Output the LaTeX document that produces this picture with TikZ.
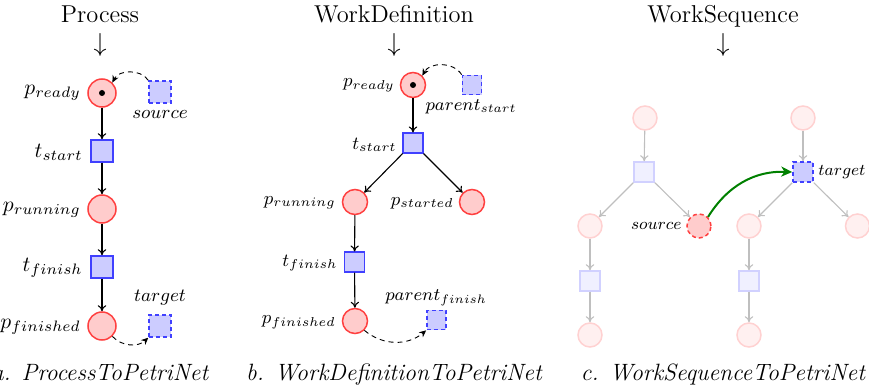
\RequirePackage{fix-cm}
\documentclass[tikz,border=0pt]{standalone}
\usetikzlibrary{arrows.meta}
\begin{document}
\begin{tikzpicture}[x=0.5pt,y=-0.5pt,
  place/.style={circle,draw=red!75,fill=red!20,line width=0.75pt,minimum size=#1,inner sep=0pt},
  place/.default=14pt,
  trans/.style={rectangle,draw=blue!75,fill=blue!20,line width=0.75pt,minimum size=#1,inner sep=0pt},
  trans/.default=11pt,
  dtrans/.style={trans=#1,dashed,dash pattern=on 2pt off 1.5pt},
  dtrans/.default=11pt,
  fplace/.style={circle,draw=red!18,fill=red!6,line width=0.75pt,minimum size=12pt,inner sep=0pt},
  ftrans/.style={rectangle,draw=blue!18,fill=blue!6,line width=0.75pt,minimum size=10pt,inner sep=0pt},
  token/.style={circle,fill=black,minimum size=3pt,inner sep=0pt},
  arr/.style={line width=0.55pt,-{Computer Modern Rightarrow[length=3pt,width=4.2pt]}},
  farr/.style={black!25,line width=0.55pt,-{Computer Modern Rightarrow[length=3pt,width=4.2pt]}},
  darr/.style={line width=0.45pt,dash pattern=on 2.5pt off 2pt,-{Stealth[length=3.5pt,width=3.2pt,inset=1.1pt]}},
  garr/.style={green!50!black,line width=1pt,-{Stealth[length=5.5pt,width=5pt,inset=1.6pt]}},
  ttl/.style={font=\fontsize{12.2}{15}\selectfont,anchor=base,inner sep=0pt},
  dwn/.style={font=\fontsize{13}{15}\selectfont,anchor=base,inner sep=0pt},
  captxt/.style={font=\fontsize{11.8}{14}\selectfont\itshape,anchor=base,inner sep=0pt},
  lA/.style={font=\fontsize{10.8}{12}\selectfont,inner sep=0pt},
  sA/.style={font=\fontsize{9.3}{11}\selectfont,inner sep=0pt},
  lB/.style={font=\fontsize{9.2}{11}\selectfont,inner sep=0pt},
  sB/.style={font=\fontsize{8.8}{10}\selectfont,inner sep=0pt},
  lC/.style={font=\fontsize{8.2}{10}\selectfont,inner sep=0pt}
]
\useasboundingbox (0,0) rectangle (869,390);

% ---------- Panel a ----------
\node[ttl] (ta) at (100,23) {Process};
\node[dwn] (da) at (100,52) {$\downarrow$};
\node[place] (ar) at (102,93) {};
\node[token] (art) at (ar) {};
\node[dtrans] (asrc) at (160,92) {};
\node[trans] (ats) at (102,151) {};
\node[place] (apr) at (102,209) {};
\node[trans] (atf) at (102,267) {};
\node[place] (apf) at (102,326) {};
\node[dtrans] (atg) at (160,326) {};
\node[lA,anchor=east] (arl) at (81,93) {$p_{ready}$};
\node[lA,anchor=east] (atsl) at (83,152) {$t_{start}$};
\node[lA,anchor=east] (aprl) at (81,210) {$p_{running}$};
\node[lA,anchor=east] (atfl) at (83,268) {$t_{finish}$};
\node[lA,anchor=east] (apfl) at (81,327) {$p_{finished}$};
\node[sA] (asrcl) at (160,114) {$source$};
\node[sA] (atgl) at (160,298) {$target$};
\draw[arr] (ar) -- (ats);
\draw[arr] (ats) -- (apr);
\draw[arr] (apr) -- (atf);
\draw[arr] (atf) -- (apf);
\draw[darr] (asrc.north west) to[bend right=60] (ar.north east);
\draw[darr] (apf.south east) to[bend right=45] (atg.south west);
\node[captxt] (ca) at (100,380) {a. ProcessToPetriNet};

% ---------- Panel b ----------
\node[ttl] (tb) at (394,23) {WorkDefinition};
\node[dwn] (db) at (394,52) {$\downarrow$};
\node[place=12.5pt] (br) at (413,85) {};
\node[token] (brt) at (br) {};
\node[dtrans=9.6pt] (bps) at (472,85) {};
\node[trans=9.8pt] (bts) at (413,143) {};
\node[place=12.5pt] (bpr) at (355,202) {};
\node[place=12.5pt] (bpst) at (472,202) {};
\node[trans=9.8pt] (btf) at (354.5,262) {};
\node[place=12.5pt] (bpf) at (355,321) {};
\node[dtrans=9.6pt] (bpfn) at (436.5,320) {};
\node[lB,anchor=east] (brl) at (395,85) {$p_{ready}$};
\node[lB,anchor=east] (btsl) at (397,145) {$t_{start}$};
\node[lB,anchor=east] (bprl) at (336,203) {$p_{running}$};
\node[lB,anchor=east] (bpstl) at (454,203) {$p_{started}$};
\node[lB,anchor=east] (btfl) at (338,263) {$t_{finish}$};
\node[lB,anchor=east] (bpfl) at (336,322) {$p_{finished}$};
\node[sB] (bpsl) at (471,107) {$parent_{start}$};
\node[sB] (bpfnl) at (436,298) {$parent_{finish}$};
\draw[arr] (br) -- (bts);
\draw[arr] (bts) -- (bpr);
\draw[arr] (bts) -- (bpst);
\draw[arr] (bpr) -- (btf);
\draw[arr] (btf) -- (bpf);
\draw[darr] (bps.north west) to[bend right=60] (br.north east);
\draw[darr] (bpf.south east) to[bend right=40] (bpfn.south west);
\node[captxt] (cb) at (394,380) {b. WorkDefinitionToPetriNet};

% ---------- Panel c ----------
\node[ttl] (tc) at (723,23) {WorkSequence};
\node[dwn] (dc) at (723,52) {$\downarrow$};
\node[fplace] (c1) at (645,118) {};
\node[ftrans] (c2) at (644,172) {};
\node[fplace] (c3) at (590,226) {};
\node[place=12pt,dashed,dash pattern=on 2pt off 1.5pt] (csrc) at (699,226) {};
\node[ftrans] (c4) at (590,281) {};
\node[fplace] (c5) at (590,335) {};
\node[fplace] (d1) at (803,118) {};
\node[dtrans=10pt] (ctg) at (803,172) {};
\node[fplace] (d3) at (749,226) {};
\node[fplace] (d3r) at (857.5,226) {};
\node[ftrans] (d4) at (749,281) {};
\node[fplace] (d5) at (749,335) {};
\node[lC,anchor=east] (csrcl) at (682,226) {$source$};
\node[lC,anchor=west] (ctgl) at (818,172) {$target$};
\draw[farr] (c1) -- (c2);
\draw[farr] (c2) -- (c3);
\draw[farr] (c2) -- (csrc);
\draw[farr] (c3) -- (c4);
\draw[farr] (c4) -- (c5);
\draw[farr] (d1) -- (ctg);
\draw[farr] (ctg) -- (d3);
\draw[farr] (ctg) -- (d3r);
\draw[farr] (d3) -- (d4);
\draw[farr] (d4) -- (d5);
\draw[garr] (csrc.north east) to[bend left=30] (ctg.west);
\node[captxt] (cc) at (723,380) {c. WorkSequenceToPetriNet};
\end{tikzpicture}
\end{document}
